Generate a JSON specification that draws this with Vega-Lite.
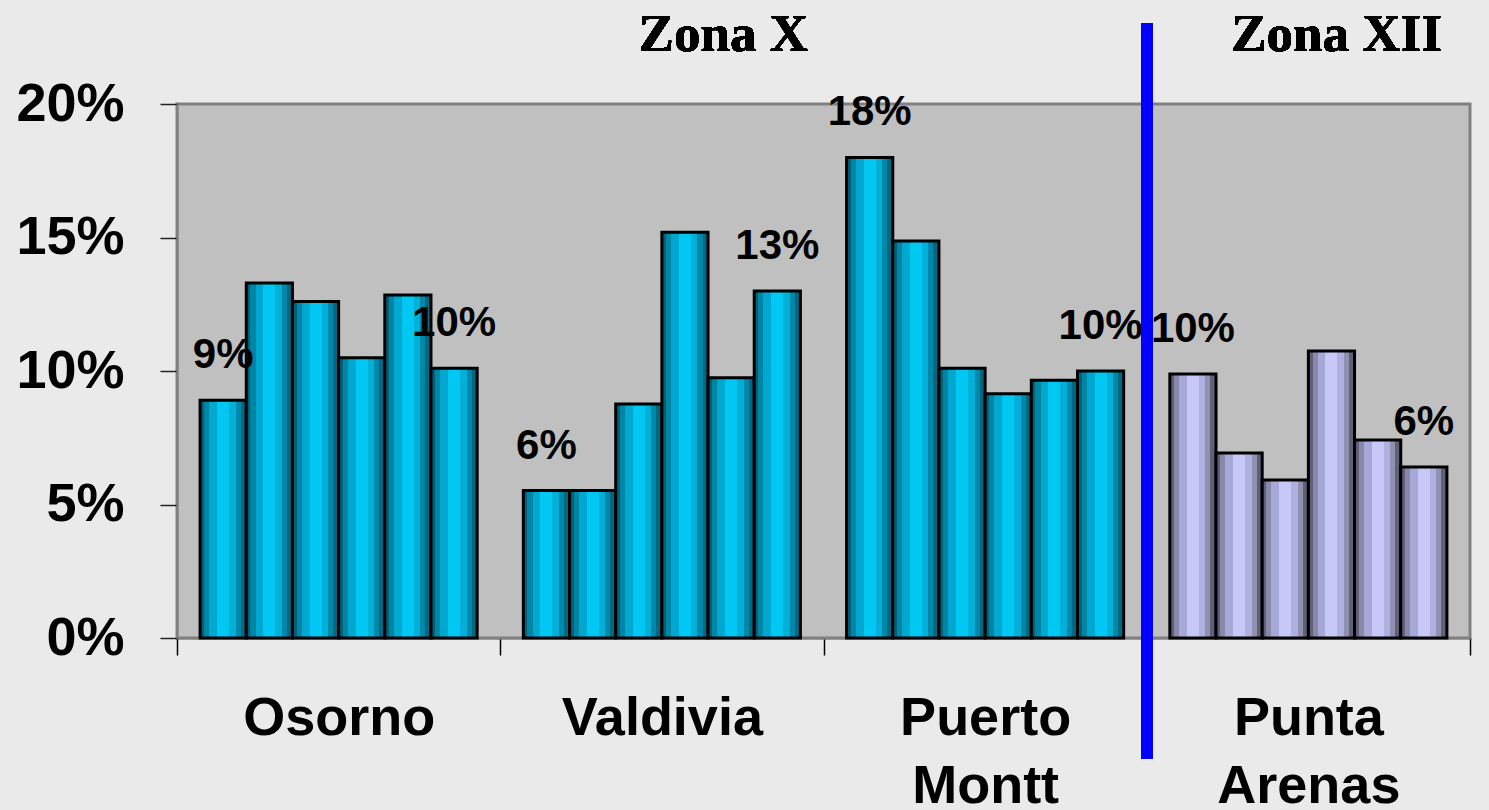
{
  "$schema": "https://vega.github.io/schema/vega-lite/v6.json",
  "width": 1293,
  "height": 534,
  "autosize": "none",
  "padding": {"left": 177, "top": 104, "right": 19, "bottom": 172},
  "background": "#eaeaea",
  "config": {
    "view": {"fill": "#c0c0c0", "stroke": "#808080", "strokeWidth": 3},
    "axis": {"grid": false}
  },
  "data": {
    "values": [
      {"city": "Osorno", "zone": "X", "bar": 1, "value": 0.089},
      {"city": "Osorno", "zone": "X", "bar": 2, "value": 0.133},
      {"city": "Osorno", "zone": "X", "bar": 3, "value": 0.126},
      {"city": "Osorno", "zone": "X", "bar": 4, "value": 0.105},
      {"city": "Osorno", "zone": "X", "bar": 5, "value": 0.1285},
      {"city": "Osorno", "zone": "X", "bar": 6, "value": 0.101},
      {"city": "Valdivia", "zone": "X", "bar": 1, "value": 0.0552},
      {"city": "Valdivia", "zone": "X", "bar": 2, "value": 0.0552},
      {"city": "Valdivia", "zone": "X", "bar": 3, "value": 0.0876},
      {"city": "Valdivia", "zone": "X", "bar": 4, "value": 0.152},
      {"city": "Valdivia", "zone": "X", "bar": 5, "value": 0.0975},
      {"city": "Valdivia", "zone": "X", "bar": 6, "value": 0.130},
      {"city": "Puerto Montt", "zone": "X", "bar": 1, "value": 0.180},
      {"city": "Puerto Montt", "zone": "X", "bar": 2, "value": 0.1487},
      {"city": "Puerto Montt", "zone": "X", "bar": 3, "value": 0.101},
      {"city": "Puerto Montt", "zone": "X", "bar": 4, "value": 0.0915},
      {"city": "Puerto Montt", "zone": "X", "bar": 5, "value": 0.0965},
      {"city": "Puerto Montt", "zone": "X", "bar": 6, "value": 0.100},
      {"city": "Punta Arenas", "zone": "XII", "bar": 1, "value": 0.0989},
      {"city": "Punta Arenas", "zone": "XII", "bar": 2, "value": 0.0693},
      {"city": "Punta Arenas", "zone": "XII", "bar": 3, "value": 0.0592},
      {"city": "Punta Arenas", "zone": "XII", "bar": 4, "value": 0.1075},
      {"city": "Punta Arenas", "zone": "XII", "bar": 5, "value": 0.0742},
      {"city": "Punta Arenas", "zone": "XII", "bar": 6, "value": 0.064}
    ]
  },
  "encoding": {
    "x": {
      "field": "city",
      "type": "nominal",
      "scale": {"domain": ["Osorno", "Valdivia", "Puerto Montt", "Punta Arenas"], "paddingInner": 0, "paddingOuter": 0},
      "axis": {
        "title": null,
        "labelAngle": 0,
        "labelFont": "Liberation Sans",
        "labelFontSize": 54,
        "labelFontWeight": "bold",
        "labelColor": "#000000",
        "labelLimit": 0,
        "labelPadding": 36,
        "labelLineHeight": 68,
        "labelExpr": "split(datum.label, ' ')",
        "tickBand": "extent",
        "tickSize": 17,
        "tickColor": "#000000",
        "tickWidth": 1.5,
        "domainColor": "#808080",
        "domainWidth": 2
      }
    },
    "xOffset": {"field": "bar", "type": "ordinal", "scale": {"paddingInner": 0, "paddingOuter": 0.5}},
    "y": {
      "field": "value",
      "type": "quantitative",
      "scale": {"domain": [0, 0.2], "nice": false},
      "axis": {
        "title": null,
        "format": ".0%",
        "values": [0, 0.05, 0.1, 0.15, 0.2],
        "labelFont": "Liberation Sans",
        "labelFontSize": 54,
        "labelFontWeight": "bold",
        "labelColor": "#000000",
        "labelPadding": 36,
        "tickSize": 17,
        "tickColor": "#222222",
        "tickWidth": 1.5,
        "domainColor": "#808080",
        "domainWidth": 2
      }
    }
  },
  "layer": [
    {
      "transform": [{"filter": "datum.zone == 'X'"}],
      "mark": {
        "type": "bar",
        "stroke": "#000000",
        "strokeWidth": 3,
        "fill": {
          "gradient": "linear", "x1": 0, "x2": 1, "y1": 0, "y2": 0,
          "stops": [
            {"offset": 0, "color": "#00607a"}, {"offset": 0.09, "color": "#00607a"},
            {"offset": 0.09, "color": "#0085a5"}, {"offset": 0.2, "color": "#0085a5"},
            {"offset": 0.2, "color": "#00a8cf"}, {"offset": 0.37, "color": "#00a8cf"},
            {"offset": 0.37, "color": "#00c8f2"}, {"offset": 0.63, "color": "#00c8f2"},
            {"offset": 0.63, "color": "#00b0d8"}, {"offset": 0.77, "color": "#00b0d8"},
            {"offset": 0.77, "color": "#0088aa"}, {"offset": 0.88, "color": "#0088aa"},
            {"offset": 0.88, "color": "#006880"}, {"offset": 1, "color": "#006880"}
          ]
        }
      }
    },
    {
      "transform": [{"filter": "datum.zone == 'XII'"}],
      "mark": {
        "type": "bar",
        "stroke": "#000000",
        "strokeWidth": 3,
        "fill": {
          "gradient": "linear", "x1": 0, "x2": 1, "y1": 0, "y2": 0,
          "stops": [
            {"offset": 0, "color": "#60607a"}, {"offset": 0.09, "color": "#60607a"},
            {"offset": 0.09, "color": "#8888a8"}, {"offset": 0.2, "color": "#8888a8"},
            {"offset": 0.2, "color": "#a8a8d8"}, {"offset": 0.37, "color": "#a8a8d8"},
            {"offset": 0.37, "color": "#c8c8f8"}, {"offset": 0.63, "color": "#c8c8f8"},
            {"offset": 0.63, "color": "#b0b0e0"}, {"offset": 0.77, "color": "#b0b0e0"},
            {"offset": 0.77, "color": "#9090b0"}, {"offset": 0.88, "color": "#9090b0"},
            {"offset": 0.88, "color": "#606078"}, {"offset": 1, "color": "#606078"}
          ]
        }
      }
    },
    {
      "transform": [{"filter": "datum.bar == 1 || datum.bar == 6"}],
      "mark": {
        "type": "text",
        "font": "Liberation Sans",
        "fontSize": 42,
        "fontWeight": "bold",
        "color": "#000000",
        "baseline": "alphabetic",
        "align": "center",
        "dy": -32
      },
      "encoding": {
        "text": {"field": "value", "format": ".0%"}
      }
    },
    {
      "mark": {
        "type": "text",
        "text": "Zona X",
        "font": "Liberation Serif",
        "fontSize": 53,
        "fontWeight": "bold",
        "color": "#000000",
        "baseline": "middle",
        "align": "center"
      },
      "encoding": {
        "x": {"datum": "Valdivia", "bandPosition": 0.69},
        "xOffset": null,
        "y": {"datum": 0.2258}
      }
    },
    {
      "mark": {
        "type": "text",
        "text": "Zona XII",
        "font": "Liberation Serif",
        "fontSize": 53,
        "fontWeight": "bold",
        "color": "#000000",
        "baseline": "middle",
        "align": "center"
      },
      "encoding": {
        "x": {"datum": "Punta Arenas", "bandPosition": 0.587},
        "xOffset": null,
        "y": {"datum": 0.2258}
      }
    },
    {
      "mark": {"type": "rule", "color": "#0000ff", "strokeWidth": 11},
      "encoding": {
        "x": {"datum": "Punta Arenas", "bandPosition": 0},
        "xOffset": null,
        "y": {"datum": 0.2303},
        "y2": {"datum": -0.0453}
      }
    }
  ]
}
